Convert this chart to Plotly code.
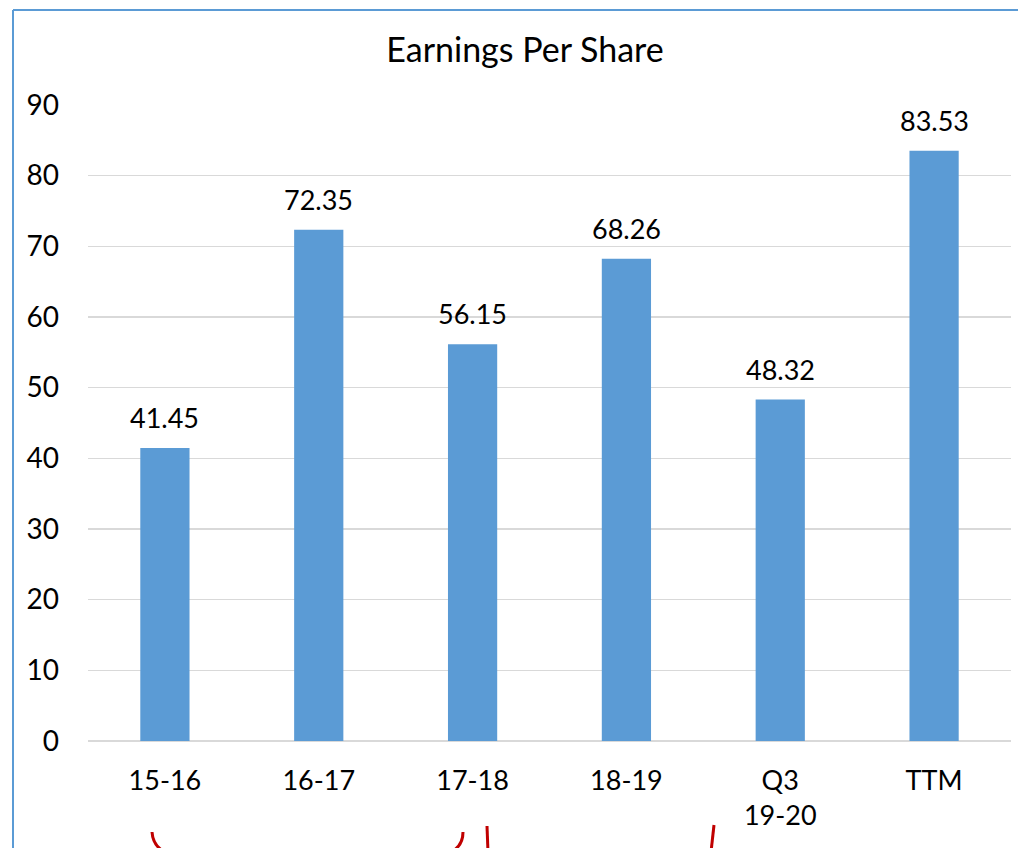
import plotly.graph_objects as go

categories = ["15-16", "16-17", "17-18", "18-19", "Q3<br>19-20", "TTM"]
eps_values = [41.45, 72.35, 56.15, 68.26, 48.32, 83.53]
y_ticks = [0, 10, 20, 30, 40, 50, 60, 70, 80, 90]

W, H = 1018, 848
L, R, T, B = 88, 7, 105, 107
pw, ph = W - L - R, H - T - B

def px(x):
    return (x - L) / pw

def py(y):
    return (H - B - y) / ph

FONT = "Lato"
BAR = "#5B9BD5"
RED = "#C00000"

fig = go.Figure()
fig.add_trace(go.Bar(
    x=categories, y=eps_values, marker_color=BAR, marker_line_width=0,
    width=0.32, hoverinfo="skip",
))

for c, v in zip(categories, eps_values):
    fig.add_annotation(x=c, y=v, text=f"{v:.2f}", showarrow=False,
                       yanchor="bottom", yshift=12,
                       font=dict(family=FONT, size=27, color="#000000"))

shapes = []
# chart border (left and top)
shapes.append(dict(type="line", xref="paper", yref="paper",
                   x0=px(13), x1=px(13), y0=py(10), y1=py(860),
                   line=dict(color=BAR, width=2)))
shapes.append(dict(type="line", xref="paper", yref="paper",
                   x0=px(13), x1=px(1030), y0=py(10), y1=py(10),
                   line=dict(color=BAR, width=2)))

def pth(pts, curve=False):
    if curve:
        (x0, y0), (cx, cy), (x1, y1) = pts
        return f"M {px(x0)},{py(y0)} Q {px(cx)},{py(cy)} {px(x1)},{py(y1)}"
    (x0, y0), (x1, y1) = pts
    return f"M {px(x0)},{py(y0)} L {px(x1)},{py(y1)}"

red_marks = [
    (((152, 832), (153, 847), (167, 853)), True),
    (((463, 832), (463, 847), (449, 853)), True),
    (((487, 826), (488, 852)), False),
    (((714, 825), (711, 852)), False),
]
for pts, curve in red_marks:
    shapes.append(dict(type="path", xref="paper", yref="paper",
                       path=pth(pts, curve), line=dict(color=RED, width=3)))

fig.update_layout(
    width=W, height=H,
    margin=dict(l=L, r=R, t=T, b=B, pad=0),
    paper_bgcolor="white", plot_bgcolor="white",
    showlegend=False,
    title=dict(text="Earnings Per Share", xref="container", x=525 / W,
               xanchor="center", yref="container", y=1 - 50 / H,
               yanchor="middle",
               font=dict(family=FONT, size=34, color="#000000")),
    xaxis=dict(showgrid=False, showline=False, ticks="", zeroline=False,
               tickfont=dict(family=FONT, size=27, color="#000000"),
               ticklabelstandoff=21),
    yaxis=dict(range=[0, 90], tickvals=y_ticks, showgrid=True,
               gridcolor="#D9D9D9", gridwidth=1.5, zeroline=True,
               zerolinecolor="#D9D9D9", zerolinewidth=2, showline=False,
               ticks="", tickfont=dict(family=FONT, size=28, color="#000000"),
               ticklabelstandoff=28),
    shapes=shapes,
    bargap=0.68,
)

fig.write_html("out.html",
               config={"displayModeBar": False, "staticPlot": True},
               post_script="document.body.style.margin='0';"
                           "document.body.style.overflow='hidden';")
